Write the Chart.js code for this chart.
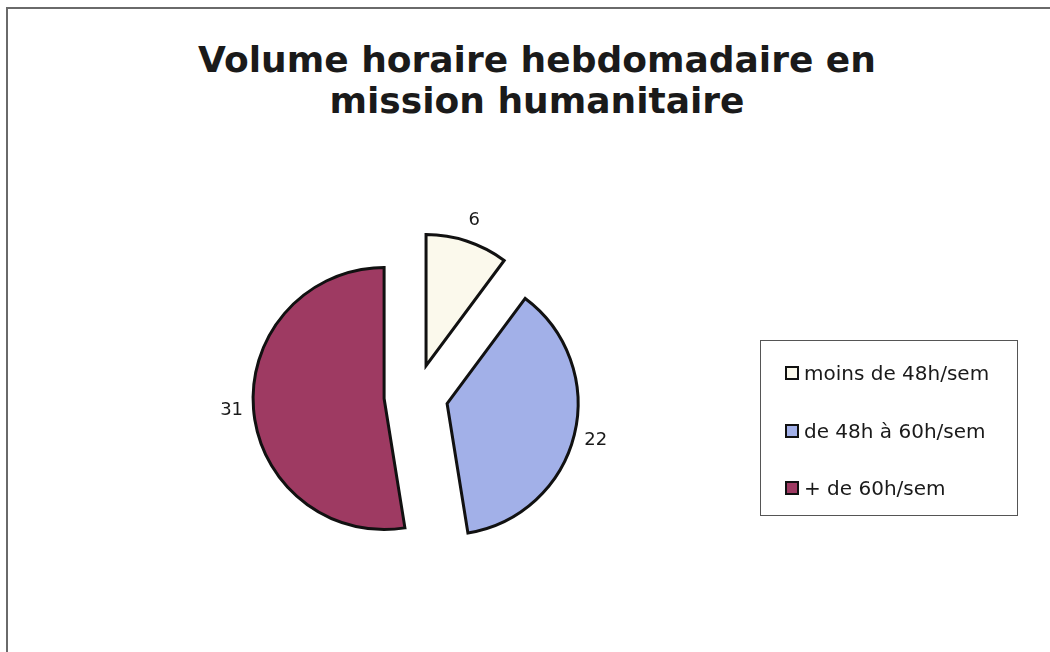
<!DOCTYPE html>
<html>
<head>
<meta charset="utf-8">
<script src="https://cdn.jsdelivr.net/npm/chart.js@4/dist/chart.umd.min.js"></script>
<style>
  html, body { margin:0; padding:0; background:#fff; }
  #wrap { position:relative; width:1050px; height:652px; overflow:hidden; background:#fff; }
  #frame { position:absolute; left:6px; top:7px; width:1100px; height:700px; border-left:2px solid #6a6a6a; border-top:2px solid #6a6a6a; }
  #title { position:absolute; left:137px; width:800px; top:39px; text-align:center;
           font-family:"DejaVu Sans", Verdana, sans-serif; font-weight:bold; font-size:36px; line-height:41px; color:#1a1a1a; }
  canvas#c { position:absolute; left:0; top:0; }
  #legend { position:absolute; left:760px; top:340px; width:258px; height:176px; border:1px solid #555; box-sizing:border-box;
            font-family:"DejaVu Sans", Verdana, sans-serif; font-size:20px; color:#1a1a1a; }
  .item { position:absolute; left:24px; height:24px; display:flex; align-items:center; white-space:nowrap; }
  .sw { width:10px; height:10px; border:2px solid #111; margin-right:5px; flex:none; }
</style>
</head>
<body>
<div id="wrap">
  <div id="frame"></div>
  <div id="title">Volume horaire hebdomadaire en<br>mission humanitaire</div>
  <canvas id="c" width="1050" height="652"></canvas>
  <div id="legend"></div>
</div>
<script>
// ---- data ----
const categories = ["moins de 48h/sem", "de 48h à 60h/sem", "+ de 60h/sem"];
const values = [6, 22, 31];
const sliceColors = ["#fbf9ec", "#a2b0e8", "#9e3a62"];

// ---- exploded-slice plugin (translates library-drawn arcs) ----
const EXPLODE = 32;
const explodePlugin = {
  id: 'explode',
  afterUpdate(chart) {
    chart.getDatasetMeta(0).data.forEach(el => {
      if (el._exWrapped) return;
      const orig = el.draw.bind(el);
      el.draw = function (ctx) {
        const h = (this.startAngle + this.endAngle) / 2;
        ctx.save();
        ctx.translate(Math.cos(h) * EXPLODE, Math.sin(h) * EXPLODE);
        orig(ctx);
        ctx.restore();
      };
      el._exWrapped = true;
    });
  },
  afterDatasetsDraw(chart) {
    const ctx = chart.ctx;
    const meta = chart.getDatasetMeta(0);
    const ds = chart.data.datasets[0];
    ctx.save();
    ctx.font = '18px "DejaVu Sans", Verdana, sans-serif';
    ctx.fillStyle = '#1a1a1a';
    ctx.textAlign = 'center';
    ctx.textBaseline = 'middle';
    meta.data.forEach((el, i) => {
      const h = (el.startAngle + el.endAngle) / 2;
      const r = el.outerRadius + 22 + EXPLODE;
      ctx.fillText(String(ds.data[i]), el.x + Math.cos(h) * r, el.y + Math.sin(h) * r);
    });
    ctx.restore();
  }
};

new Chart(document.getElementById('c'), {
  type: 'pie',
  data: {
    labels: categories,
    datasets: [{
      data: values,
      backgroundColor: sliceColors,
      borderColor: '#111',
      borderWidth: 3,
      borderJoinStyle: 'miter'
    }]
  },
  options: {
    responsive: false,
    animation: false,
    radius: 131,
    layout: { padding: { left: 216, right: 434, top: 196, bottom: 56 } },
    plugins: {
      legend: { display: false },
      title: { display: false },
      tooltip: { enabled: false }
    }
  },
  plugins: [explodePlugin]
});

// ---- HTML legend built from the arrays ----
const legendEl = document.getElementById('legend');
const rowCenters = [32, 90, 147];
categories.forEach((cat, i) => {
  const it = document.createElement('div');
  it.className = 'item';
  it.style.top = (rowCenters[i] - 12) + 'px';
  const sw = document.createElement('span');
  sw.className = 'sw';
  sw.style.background = sliceColors[i];
  const tx = document.createElement('span');
  tx.textContent = cat;
  it.appendChild(sw); it.appendChild(tx);
  legendEl.appendChild(it);
});
</script>
</body>
</html>
